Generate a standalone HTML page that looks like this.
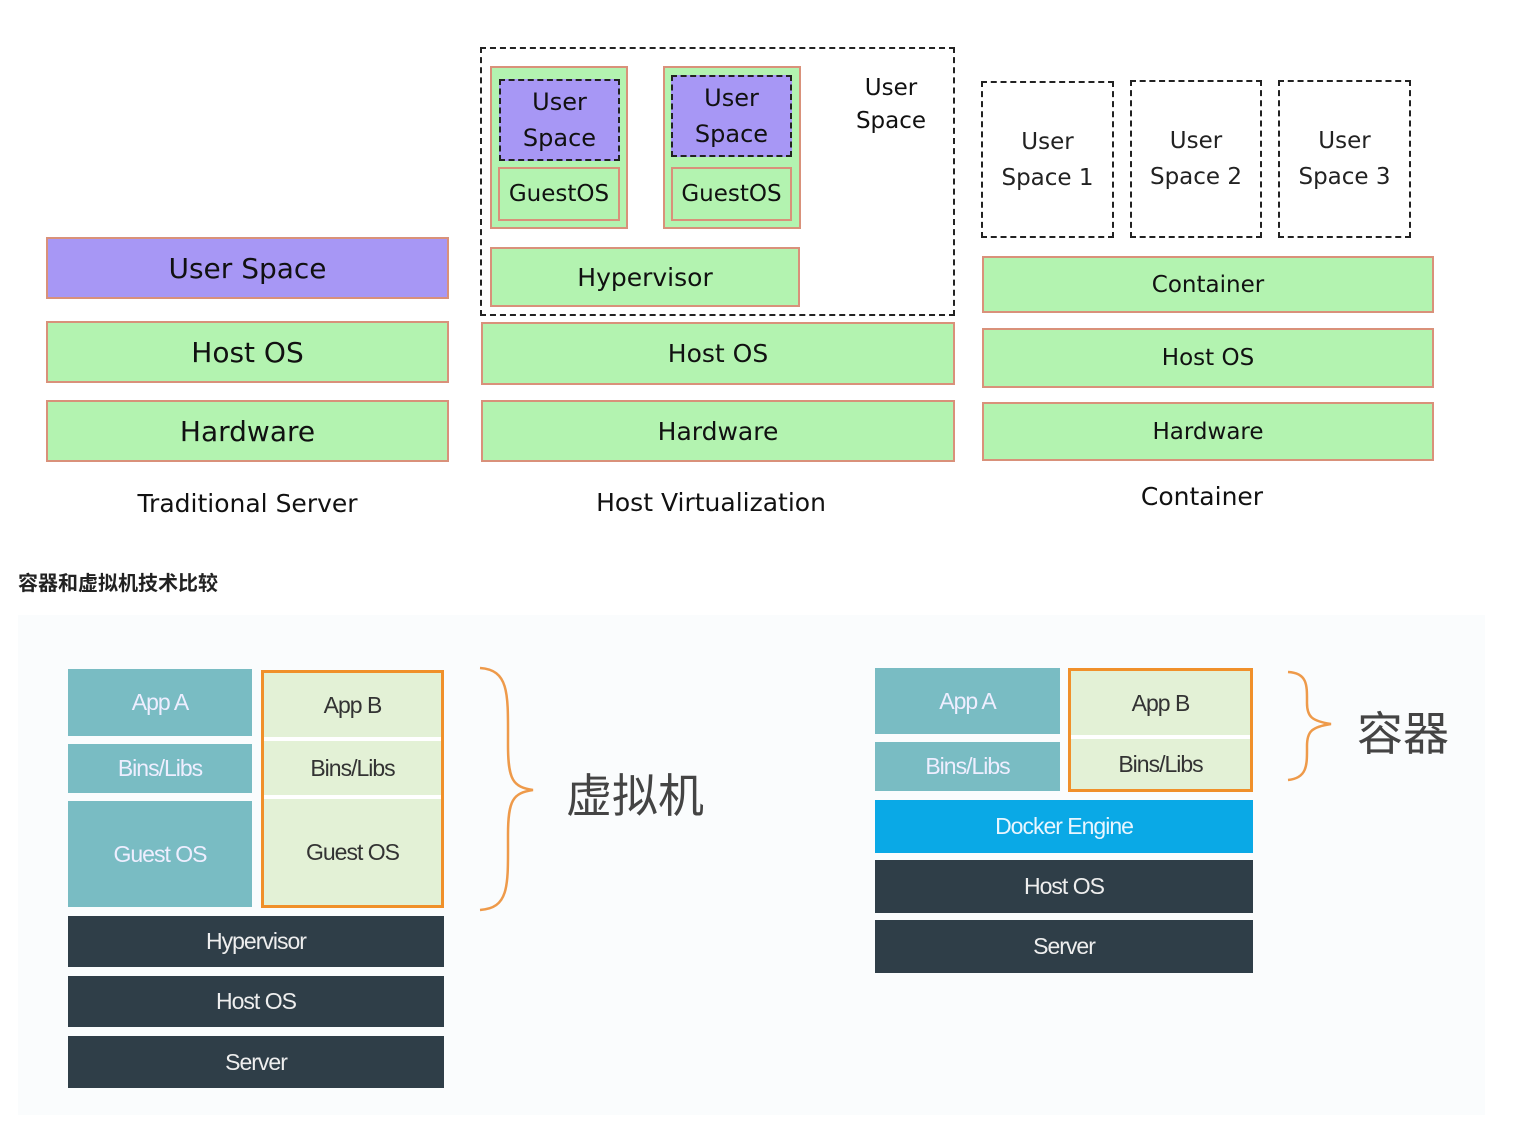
<!DOCTYPE html>
<html><head><meta charset="utf-8"><style>
body{margin:0;width:1525px;height:1121px;background:#fff;position:relative;overflow:hidden;font-family:"DejaVu Sans","Liberation Sans",sans-serif}
div{position:absolute;box-sizing:border-box}
.c{display:flex;align-items:center;justify-content:center;text-align:center}
.g{background:#b3f3b0;border:2px solid #d9917a;color:#111}
.p{background:#a797f5;border:2px dashed #222;color:#111}
.dash{border:2px dashed #222}
.lbl{color:#111;font-size:25px}
.t{background:#79bcc3;color:#eef;font-family:"Liberation Sans",sans-serif;font-size:23px;letter-spacing:-1px}
.lg{background:#e3f1d6;color:#333;font-family:"Liberation Sans",sans-serif;font-size:23px;letter-spacing:-1px}
.d{background:#2f3e48;color:#eee;font-family:"Liberation Sans",sans-serif;font-size:23px;letter-spacing:-1px}
.cn{font-family:"Noto Sans CJK SC",sans-serif;color:#444;font-size:46px}
</style></head><body>
<!-- traditional -->
<div class="c p" style="left:46px;top:237px;width:403px;height:62px;border:2px solid #d9917a;font-size:28px">User Space</div>
<div class="c g" style="left:46px;top:321px;width:403px;height:62px;font-size:28px">Host OS</div>
<div class="c g" style="left:46px;top:400px;width:403px;height:62px;font-size:28px">Hardware</div>
<div class="c lbl" style="left:46px;top:485px;width:403px;height:36px">Traditional Server</div>
<!-- host virt -->
<div class="dash" style="left:480px;top:47px;width:475px;height:269px"></div>
<div class="g" style="left:490px;top:66px;width:138px;height:163px"></div>
<div class="c p" style="left:499px;top:79px;width:121px;height:82px;font-size:24px;line-height:36px">User<br>Space</div>
<div class="c g" style="left:498px;top:167px;width:122px;height:54px;font-size:23px">GuestOS</div>
<div class="g" style="left:663px;top:66px;width:138px;height:163px"></div>
<div class="c p" style="left:671px;top:75px;width:121px;height:82px;font-size:24px;line-height:36px">User<br>Space</div>
<div class="c g" style="left:671px;top:167px;width:121px;height:54px;font-size:23px">GuestOS</div>
<div class="c" style="left:845px;top:70px;width:92px;height:70px;font-size:23px;line-height:33px;color:#111">User<br>Space</div>
<div class="c g" style="left:490px;top:247px;width:310px;height:60px;font-size:25px">Hypervisor</div>
<div class="c g" style="left:481px;top:322px;width:474px;height:63px;font-size:25px">Host OS</div>
<div class="c g" style="left:481px;top:400px;width:474px;height:62px;font-size:25px">Hardware</div>
<div class="c lbl" style="left:481px;top:484px;width:460px;height:36px">Host Virtualization</div>
<!-- container -->
<div class="c dash" style="left:981px;top:81px;width:133px;height:157px;font-size:23px;line-height:36px;color:#222">User<br>Space 1</div>
<div class="c dash" style="left:1130px;top:80px;width:132px;height:158px;font-size:23px;line-height:36px;color:#222">User<br>Space 2</div>
<div class="c dash" style="left:1278px;top:80px;width:133px;height:158px;font-size:23px;line-height:36px;color:#222">User<br>Space 3</div>
<div class="c g" style="left:982px;top:256px;width:452px;height:57px;font-size:23px">Container</div>
<div class="c g" style="left:982px;top:328px;width:452px;height:60px;font-size:23px">Host OS</div>
<div class="c g" style="left:982px;top:402px;width:452px;height:59px;font-size:23px">Hardware</div>
<div class="c lbl" style="left:982px;top:478px;width:440px;height:36px">Container</div>
<!-- title -->
<div style="left:18px;top:567px;font-family:'Noto Sans CJK SC',sans-serif;font-weight:bold;font-size:20px;color:#222">容器和虚拟机技术比较</div>
<!-- lower bg -->
<div style="left:18px;top:615px;width:1467px;height:500px;background:#fafcfd"></div>
<!-- VM -->
<div class="c t" style="left:68px;top:669px;width:184px;height:67px">App A</div>
<div class="c t" style="left:68px;top:744px;width:184px;height:49px">Bins/Libs</div>
<div class="c t" style="left:68px;top:801px;width:184px;height:106px">Guest OS</div>
<div style="left:261px;top:670px;width:183px;height:238px;background:#fff;border:3px solid #f0902a"></div>
<div class="c lg" style="left:264px;top:673px;width:177px;height:64px">App B</div>
<div class="c lg" style="left:264px;top:741px;width:177px;height:54px">Bins/Libs</div>
<div class="c lg" style="left:264px;top:799px;width:177px;height:106px">Guest OS</div>
<div class="c d" style="left:68px;top:916px;width:376px;height:51px">Hypervisor</div>
<div class="c d" style="left:68px;top:976px;width:376px;height:51px">Host OS</div>
<div class="c d" style="left:68px;top:1036px;width:376px;height:52px">Server</div>
<svg style="position:absolute;left:475px;top:665px" width="70" height="250"><path d="M5 3 C35 5 33 30 33 80 C33 115 38 122 58 125 C38 128 33 135 33 170 C33 220 35 243 5 245" fill="none" stroke="#ee9a4a" stroke-width="2.5"/></svg>
<div class="cn" style="left:566px;top:760px">虚拟机</div>
<!-- container lower -->
<div class="c t" style="left:875px;top:668px;width:185px;height:66px">App A</div>
<div class="c t" style="left:875px;top:742px;width:185px;height:49px">Bins/Libs</div>
<div style="left:1068px;top:668px;width:185px;height:124px;background:#fff;border:3px solid #f0902a"></div>
<div class="c lg" style="left:1071px;top:671px;width:179px;height:64px">App B</div>
<div class="c lg" style="left:1071px;top:739px;width:179px;height:50px">Bins/Libs</div>
<div class="c" style="left:875px;top:800px;width:378px;height:53px;background:#0aa9e6;color:#e8f6ff;font-family:'Liberation Sans',sans-serif;font-size:23px;letter-spacing:-1px">Docker Engine</div>
<div class="c d" style="left:875px;top:860px;width:378px;height:53px">Host OS</div>
<div class="c d" style="left:875px;top:920px;width:378px;height:53px">Server</div>
<svg style="position:absolute;left:1283px;top:668px" width="60" height="120"><path d="M5 4 C25 5 24 18 24 35 C24 48 28 53 48 56 C28 59 24 64 24 78 C24 96 25 110 5 112" fill="none" stroke="#ee9a4a" stroke-width="2.5"/></svg>
<div class="cn" style="left:1357px;top:698px">容器</div>
</body></html>
